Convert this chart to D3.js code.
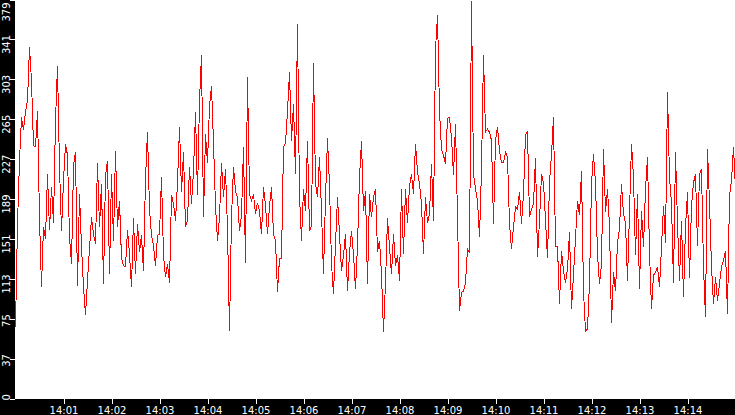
<!DOCTYPE html>
<html>
<head>
<meta charset="utf-8">
<script src="https://cdn.jsdelivr.net/npm/d3@7"></script>
<style>
  html, body { margin: 0; padding: 0; background: #000; }
  svg { display: block; }
  text { font-family: "DejaVu Sans", sans-serif; font-size: 10px; fill: #fff; }
</style>
</head>
<body>
<svg id="chart" width="735" height="415"></svg>
<script>
// ---- data ----
const startTime = "14:00:00";
const stepSeconds = 2.5;
const valuesA = [68,166,226,267,255,272,283,334,302,240,239,273,171,106,163,152,213,160,201,167,
  264,316,220,159,207,242,231,153,128,221,234,107,194,144,106,79,112,142,172,156,
  147,224,163,204,109,212,226,118,213,150,235,163,188,133,126,125,160,137,106,171];
const valuesB = [118,166,139,155,121,209,253,180,155,145,126,155,156,210,136,115,128,110,193,185,
  169,205,258,196,234,163,169,220,185,216,272,193,283,326,172,251,224,278,297,243,
  183,150,172,224,191,218,161,64,172,220,197,191,159,174,239,129,305,194,188,194];
const valuesC = [175,186,178,156,201,183,156,183,201,156,150,101,133,133,239,243,273,310,245,280,
  213,356,193,150,199,178,245,159,164,319,204,191,229,178,118,190,247,202,128,99,
  147,191,156,121,136,156,102,139,159,137,104,145,210,245,178,197,109,194,172,191];
const valuesD = [199,139,150,118,63,110,171,144,118,156,126,136,112,199,137,199,167,202,213,194,
  242,215,204,185,137,191,167,175,223,169,332,364,273,237,231,223,266,267,248,212,
  261,172,83,101,102,110,142,139,378,213,199,188,153,218,326,253,256,253,245,166];
const valuesE = [245,258,235,224,224,234,229,166,142,163,182,180,196,166,194,251,253,172,180,185,
  228,134,169,213,205,169,133,205,232,267,144,144,90,140,121,110,123,158,85,118,
  152,188,174,216,102,64,66,110,204,232,205,137,109,128,237,177,199,164,72,120];
const valuesF = [102,148,161,204,175,167,112,177,242,210,136,194,104,178,144,199,229,139,85,117,
  120,125,106,144,183,148,291,210,185,110,234,167,112,169,96,163,196,114,183,205,
  213,145,213,218,125,77,237,186,125,90,115,93,109,125,131,140,80,193,207,239,199];
const yMax = 379;
const yTickLabels = ["0","37","75","113","151","189","227","265","303","341","379"];
const xTickLabels = ["14:01","14:02","14:03","14:04","14:05","14:06","14:07","14:08","14:09","14:10","14:11","14:12","14:13","14:14"];

// ---- build ----
const values = [].concat(valuesA, valuesB, valuesC, valuesD, valuesE, valuesF);
const parse = d3.timeParse("%H:%M:%S");
const t0 = parse(startTime);
const data = values.map((v, i) => ({ t: new Date(t0.getTime() + i * stepSeconds * 1000), v }));
const tEnd = d3.timeMinute.offset(t0, 15);

const W = 735, H = 415, left = 15, bottom = 399;
const svg = d3.select("#chart");

svg.append("rect").attr("width", W).attr("height", H).attr("fill", "#000");
svg.append("rect").attr("x", left).attr("y", 0).attr("width", W - left).attr("height", bottom).attr("fill", "#fff");

const x = d3.scaleTime().domain([t0, tEnd]).range([left + 0.5, W + 0.5]);
const y = d3.scaleLinear().domain([0, yMax]).range([bottom - 0.5, -0.5]);

svg.append("clipPath").attr("id", "clip")
  .append("rect").attr("x", left).attr("y", 0).attr("width", W - left).attr("height", bottom);

const line = d3.line().x(d => x(d.t)).y(d => y(d.v));
svg.append("path")
  .datum(data)
  .attr("clip-path", "url(#clip)")
  .attr("fill", "none")
  .attr("stroke", "#ff0000")
  .attr("stroke-width", 1)
  .attr("shape-rendering", "crispEdges")
  .attr("d", line);

// y axis
const yTickValues = yTickLabels.map((_, i) => yMax * i / (yTickLabels.length - 1));
const yAxis = d3.axisLeft(y).tickValues(yTickValues).tickFormat((d, i) => yTickLabels[i]).tickSize(5).tickPadding(0);
const gy = svg.append("g").attr("transform", `translate(${left},0)`).call(yAxis);
gy.select(".domain").remove();
gy.selectAll(".tick line").attr("stroke", "#fff").attr("shape-rendering", "crispEdges");
gy.selectAll(".tick text").each(function(d) {
  const ty = y(d);
  const endY = Math.max(ty - 5, 2);
  d3.select(this)
    .attr("transform", "rotate(-90)")
    .attr("text-anchor", "end")
    .attr("x", ty - endY)
    .attr("y", -5.5)
    .attr("dy", 0)
    .attr("fill", "#fff")
    .style("font-family", "DejaVu Sans")
    .style("font-size", "10px");
});

// x axis
const xTickValues = xTickLabels.map(s => parse(s + ":00"));
const xAxis = d3.axisBottom(x).tickValues(xTickValues).tickFormat((d, i) => xTickLabels[i]).tickSize(5);
const gx = svg.append("g").attr("transform", `translate(0,${bottom})`).call(xAxis);
gx.select(".domain").remove();
gx.selectAll(".tick line").attr("stroke", "#fff").attr("shape-rendering", "crispEdges");
gx.selectAll(".tick text")
  .attr("y", 14.5).attr("dy", 0)
  .attr("fill", "#fff")
  .style("font-family", "DejaVu Sans")
  .style("font-size", "10px");
</script>
</body>
</html>
